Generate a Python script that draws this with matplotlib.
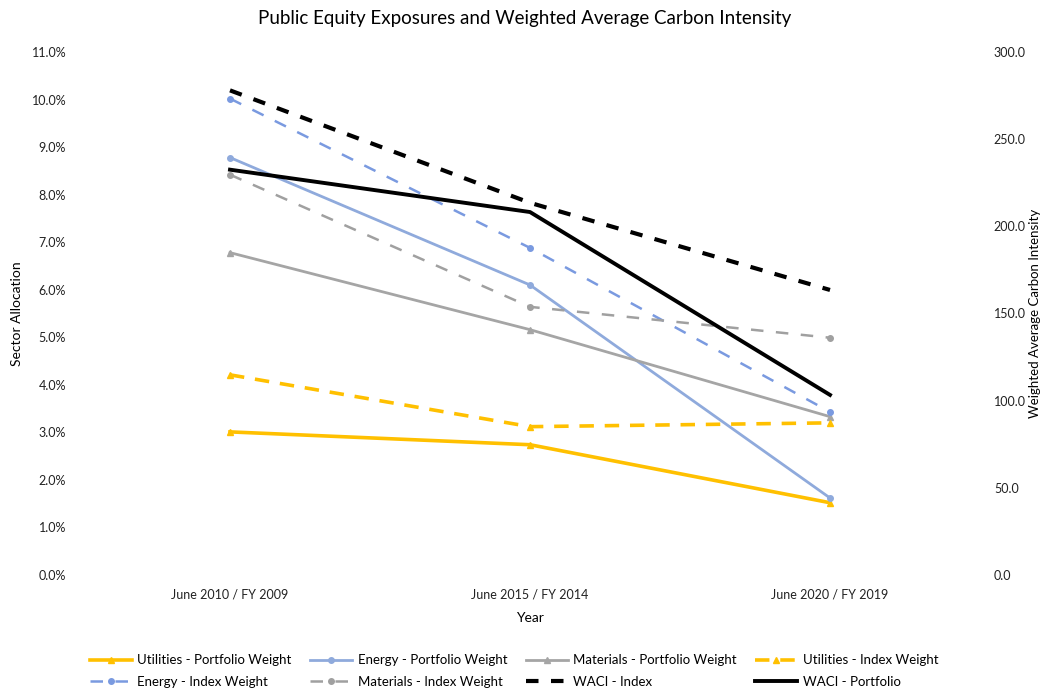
import matplotlib
matplotlib.use("Agg")
import matplotlib.pyplot as plt
from matplotlib.ticker import FuncFormatter, MultipleLocator

plt.rcParams['font.family'] = ['Lato', 'DejaVu Sans']

years = ["June 2010 / FY 2009", "June 2015 / FY 2014", "June 2020 / FY 2019"]

# sector weights, in percent
utilities_port = [3.01, 2.74, 1.52]
utilities_index = [4.21, 3.12, 3.20]
energy_port = [8.78, 6.10, 1.62]
energy_index = [10.02, 6.88, 3.43]
materials_port = [6.78, 5.16, 3.33]
materials_index = [8.42, 5.64, 4.99]

# weighted average carbon intensity
waci_index = [278.0, 213.5, 163.5]
waci_port = [232.5, 208.2, 103.3]

x = range(len(years))

fig = plt.figure(figsize=(10.49, 6.96), dpi=100)
ax = fig.add_axes([80 / 1049, 1 - 575 / 696, 900 / 1049, 523 / 696])
ax2 = ax.twinx()

gold = "#FFC000"
blue = "#8FAADC"
blue_dk = "#7A9AE0"
grey = "#A5A5A5"

h_up, = ax.plot(x, utilities_port, color=gold, lw=2.6, marker="^", ms=5,
                label="Utilities - Portfolio Weight")
h_ep, = ax.plot(x, energy_port, color=blue, lw=2.0, marker="o", ms=4,
                label="Energy - Portfolio Weight")
h_mp, = ax.plot(x, materials_port, color=grey, lw=2.0, marker="^", ms=4,
                label="Materials - Portfolio Weight")
h_ui, = ax.plot(x, utilities_index, color=gold, lw=2.6, ls=(0, (4, 3)),
                marker="^", ms=5, label="Utilities - Index Weight")
h_ei, = ax.plot(x, energy_index, color=blue_dk, lw=1.8, ls=(0, (5, 5)),
                marker="o", ms=4, label="Energy - Index Weight")
h_mi, = ax.plot(x, materials_index, color="#A0A0A0", lw=1.8, ls=(0, (5, 5)),
                marker="o", ms=4, label="Materials - Index Weight")

h_wi, = ax2.plot(x, waci_index, color="black", lw=3.0, ls=(0, (3, 3)),
                 label="WACI - Index")
h_wp, = ax2.plot(x, waci_port, color="black", lw=2.8, label="WACI - Portfolio")

ax.set_xlim(-0.5, 2.5)
ax.set_ylim(0, 11)
ax.yaxis.set_major_locator(MultipleLocator(1))
ax.yaxis.set_major_formatter(FuncFormatter(lambda v, p: f"{v:.1f}%"))
ax2.set_ylim(0, 300)
ax2.yaxis.set_major_locator(MultipleLocator(50))
ax2.yaxis.set_major_formatter(FuncFormatter(lambda v, p: f"{v:.1f}"))

ax.set_xticks(list(x))
ax.set_xticklabels(years)

for a in (ax, ax2):
    for s in a.spines.values():
        s.set_visible(False)
    a.tick_params(length=0, labelsize=9, colors="#222222")
ax.tick_params(axis="y", pad=10)
ax2.tick_params(axis="y", pad=10)
ax.tick_params(axis="x", pad=10)

ax.set_xlabel("Year", fontsize=10, labelpad=8)
ax.set_ylabel("Sector Allocation", fontsize=10, labelpad=6)
ax2.set_ylabel("Weighted Average Carbon Intensity", fontsize=9.5, labelpad=2)

fig.suptitle("Public Equity Exposures and Weighted Average Carbon Intensity",
             fontsize=13.5, y=0.985)

# column-major fill so rows read left to right
handles = [h_up, h_ei, h_ep, h_mi, h_mp, h_wi, h_ui, h_wp]
fig.legend(handles=handles, labels=[h.get_label() for h in handles],
           ncol=4, loc="lower center", bbox_to_anchor=(0.49, -0.005),
           frameon=False, fontsize=9.5, handlelength=3.2, columnspacing=1.4,
           handletextpad=0.4, labelspacing=0.7)

fig.savefig("out.png", dpi=100)
